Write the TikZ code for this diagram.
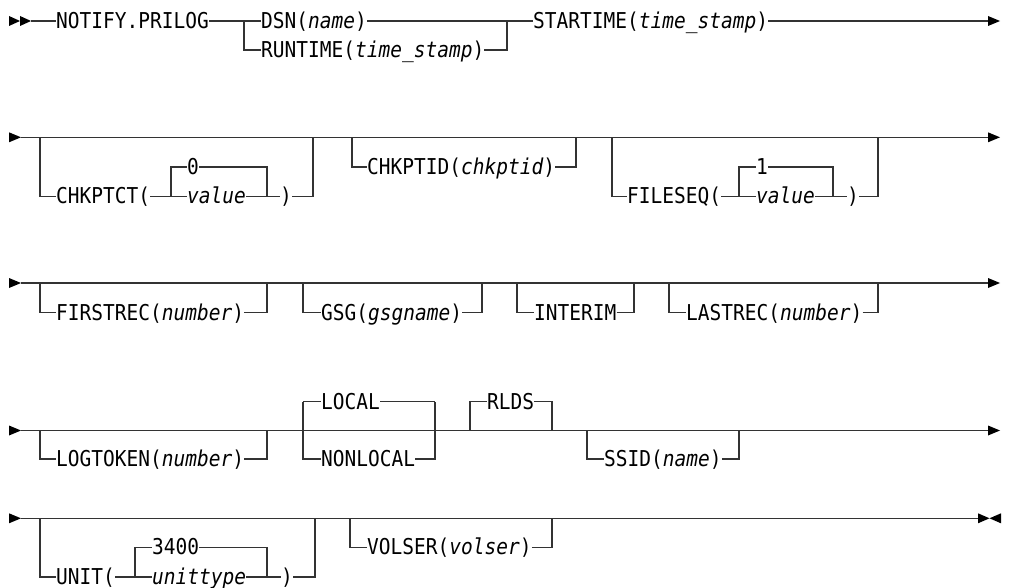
\documentclass[tikz,border=0pt]{standalone}
\usepackage{graphicx}
\usepackage{fontspec}
\setmainfont{DejaVu Sans Mono}[ItalicFont={DejaVu Sans Mono Oblique}]
\newcommand{\rrfont}{\fontsize{19.5}{22}\selectfont}
\newcommand{\tx}[1]{\scalebox{1}[1.12]{#1}}
\begin{document}
\begin{tikzpicture}[x=1pt,y=-1pt,
  rr/.style={line width=1.2pt, draw=black!80},
  lbl/.style={anchor=base west, inner sep=0pt, font=\rrfont},
  tipfill/.style={fill=black}]
\useasboundingbox (0,0) rectangle (1016,588);
% ---------- row 1 ----------
\coordinate (y1) at (0,21); \coordinate (y1b) at (0,50);
\fill[tipfill] (9,16)--(20,21)--(9,26)--cycle;
\fill[tipfill] (20,16)--(31,21)--(20,26)--cycle;
\coordinate (s1) at (31,21);
\node[lbl] (notify) at (56,28.5) {\tx{NOTIFY.PRILOG}};
\coordinate (j1a) at (244,21); \coordinate (j1b) at (507,21);
\node[lbl] (dsn) at (261,28.5) {\tx{DSN(\textit{name})}};
\node[lbl] (runtime) at (261,57.5) {\tx{RUNTIME(\textit{time\_stamp})}};
\node[lbl] (startime) at (533,28.5) {\tx{STARTIME(\textit{time\_stamp})}};
\coordinate (e1) at (988,21);
\draw[rr] (s1) -- (notify.west |- y1);
\draw[rr] (notify.east |- y1) -- (dsn.west |- y1);
\draw[rr] (j1a) |- (runtime.west |- y1b);
\draw[rr] (dsn.east |- y1) -- (j1b);
\draw[rr] (runtime.east |- y1b) -| (j1b);
\draw[rr] (j1b) -- (startime.west |- y1);
\draw[rr] (startime.east |- y1) -- (e1);
\fill[tipfill] (988,16)--(1000,21)--(988,26)--cycle;
% ---------- row 2 ----------
\coordinate (y2) at (0,137.3); \coordinate (y2a) at (0,167); \coordinate (y2b) at (0,196.5);
\fill[tipfill] (9,132.3)--(21,137.3)--(9,142.3)--cycle;
\coordinate (s2) at (21,137.3); \coordinate (e2) at (988,137.3);
\draw[rr] (s2) -- (e2);
\fill[tipfill] (988,132.3)--(1000,137.3)--(988,142.3)--cycle;
% CHKPTCT
\coordinate (c2a) at (40,137.3); \coordinate (c2b) at (171,196.5);
\coordinate (c2c) at (267,196.5); \coordinate (c2d) at (313,137.3);
\node[lbl] (chkptct) at (56,204) {\tx{CHKPTCT(}};
\node[lbl] (zero) at (187,174.5) {\tx{0}};
\node[lbl] (val1) at (187,204) {\tx{\textit{value}}};
\node[lbl] (rp1) at (280,204) {\tx{)}};
\draw[rr] (c2a) |- (chkptct.west |- y2b);
\draw[rr] (chkptct.east |- y2b) -- (val1.west |- y2b);
\draw[rr] (c2b) |- (zero.west |- y2a);
\draw[rr] (zero.east |- y2a) -| (c2c);
\draw[rr] (val1.east |- y2b) -- (rp1.west |- y2b);
\draw[rr] (rp1.east |- y2b) -| (c2d);
% CHKPTID
\coordinate (c2e) at (352,137.3); \coordinate (c2f) at (576,137.3);
\node[lbl] (chkptid) at (367,174.5) {\tx{CHKPTID(\textit{chkptid})}};
\draw[rr] (c2e) |- (chkptid.west |- y2a);
\draw[rr] (chkptid.east |- y2a) -| (c2f);
% FILESEQ
\coordinate (c2g) at (612,137.3); \coordinate (c2h) at (739,196.5);
\coordinate (c2i) at (833,196.5); \coordinate (c2j) at (878,137.3);
\node[lbl] (fileseq) at (627,204) {\tx{FILESEQ(}};
\node[lbl] (one) at (756,174.5) {\tx{1}};
\node[lbl] (val2) at (756,204) {\tx{\textit{value}}};
\node[lbl] (rp2) at (847,204) {\tx{)}};
\draw[rr] (c2g) |- (fileseq.west |- y2b);
\draw[rr] (fileseq.east |- y2b) -- (val2.west |- y2b);
\draw[rr] (c2h) |- (one.west |- y2a);
\draw[rr] (one.east |- y2a) -| (c2i);
\draw[rr] (val2.east |- y2b) -- (rp2.west |- y2b);
\draw[rr] (rp2.east |- y2b) -| (c2j);
% ---------- row 3 ----------
\coordinate (y3) at (0,283); \coordinate (y3b) at (0,312.7);
\fill[tipfill] (9,278)--(21,283)--(9,288)--cycle;
\coordinate (s3) at (21,283); \coordinate (e3) at (988,283);
\draw[rr] (s3) -- (e3);
\fill[tipfill] (988,278)--(1000,283)--(988,288)--cycle;
\coordinate (c3a) at (40,283); \coordinate (c3b) at (267,283);
\node[lbl] (firstrec) at (56,320.2) {\tx{FIRSTREC(\textit{number})}};
\draw[rr] (c3a) |- (firstrec.west |- y3b);
\draw[rr] (firstrec.east |- y3b) -| (c3b);
\coordinate (c3c) at (303,283); \coordinate (c3d) at (482,283);
\node[lbl] (gsg) at (321,320.2) {\tx{GSG(\textit{gsgname})}};
\draw[rr] (c3c) |- (gsg.west |- y3b);
\draw[rr] (gsg.east |- y3b) -| (c3d);
\coordinate (c3e) at (517,283); \coordinate (c3f) at (634,283);
\node[lbl] (interim) at (534,320.2) {\tx{INTERIM}};
\draw[rr] (c3e) |- (interim.west |- y3b);
\draw[rr] (interim.east |- y3b) -| (c3f);
\coordinate (c3g) at (669,283); \coordinate (c3h) at (878,283);
\node[lbl] (lastrec) at (686,320.2) {\tx{LASTREC(\textit{number})}};
\draw[rr] (c3g) |- (lastrec.west |- y3b);
\draw[rr] (lastrec.east |- y3b) -| (c3h);
% ---------- row 4 ----------
\coordinate (y4) at (0,430.5); \coordinate (y4a) at (0,401.5); \coordinate (y4b) at (0,459);
\fill[tipfill] (9,425.5)--(21,430.5)--(9,435.5)--cycle;
\coordinate (s4) at (21,430.5); \coordinate (e4) at (988,430.5);
\draw[rr] (s4) -- (e4);
\fill[tipfill] (988,425.5)--(1000,430.5)--(988,435.5)--cycle;
\coordinate (c4a) at (40,430.5); \coordinate (c4b) at (267,430.5);
\node[lbl] (logtoken) at (56,466.5) {\tx{LOGTOKEN(\textit{number})}};
\draw[rr] (c4a) |- (logtoken.west |- y4b);
\draw[rr] (logtoken.east |- y4b) -| (c4b);
\coordinate (c4c) at (303,401.5); \coordinate (c4d) at (435,401.5);
\node[lbl] (local) at (321,409) {\tx{LOCAL}};
\node[lbl] (nonlocal) at (321,466.5) {\tx{NONLOCAL}};
\draw[rr] (c4c) -- (local.west |- y4a);
\draw[rr] (local.east |- y4a) -- (c4d);
\draw[rr] (c4c) |- (nonlocal.west |- y4b);
\draw[rr] (nonlocal.east |- y4b) -| (c4d);
\coordinate (c4e) at (470,430.5); \coordinate (c4f) at (552,430.5);
\node[lbl] (rlds) at (487,409) {\tx{RLDS}};
\draw[rr] (c4e) |- (rlds.west |- y4a);
\draw[rr] (rlds.east |- y4a) -| (c4f);
\coordinate (c4g) at (587,430.5); \coordinate (c4h) at (739,430.5);
\node[lbl] (ssid) at (604,466.5) {\tx{SSID(\textit{name})}};
\draw[rr] (c4g) |- (ssid.west |- y4b);
\draw[rr] (ssid.east |- y4b) -| (c4h);
% ---------- row 5 ----------
\coordinate (y5) at (0,518.3); \coordinate (y5a) at (0,547.3); \coordinate (y5b) at (0,577);
\fill[tipfill] (9,513.3)--(21,518.3)--(9,523.3)--cycle;
\coordinate (s5) at (21,518.3); \coordinate (e5) at (978,518.3);
\draw[rr] (s5) -- (e5);
\fill[tipfill] (978,513.3)--(989.5,518.3)--(978,523.3)--cycle;
\fill[tipfill] (1001,513.3)--(989.5,518.3)--(1001,523.3)--cycle;
\coordinate (c5a) at (40,518.3); \coordinate (c5b) at (135,577);
\coordinate (c5c) at (267,577); \coordinate (c5d) at (315,518.3);
\node[lbl] (unit) at (56,584.5) {\tx{UNIT(}};
\node[lbl] (d3400) at (152,554.8) {\tx{3400}};
\node[lbl] (unittype) at (152,584.5) {\tx{\textit{unittype}}};
\node[lbl] (rp3) at (281,584.5) {\tx{)}};
\draw[rr] (c5a) |- (unit.west |- y5b);
\draw[rr] (unit.east |- y5b) -- (unittype.west |- y5b);
\draw[rr] (c5b) |- (d3400.west |- y5a);
\draw[rr] (d3400.east |- y5a) -| (c5c);
\draw[rr] (unittype.east |- y5b) -- (rp3.west |- y5b);
\draw[rr] (rp3.east |- y5b) -| (c5d);
\coordinate (c5e) at (350,518.3); \coordinate (c5f) at (552,518.3);
\node[lbl] (volser) at (367,554.8) {\tx{VOLSER(\textit{volser})}};
\draw[rr] (c5e) |- (volser.west |- y5a);
\draw[rr] (volser.east |- y5a) -| (c5f);
\end{tikzpicture}
\end{document}
